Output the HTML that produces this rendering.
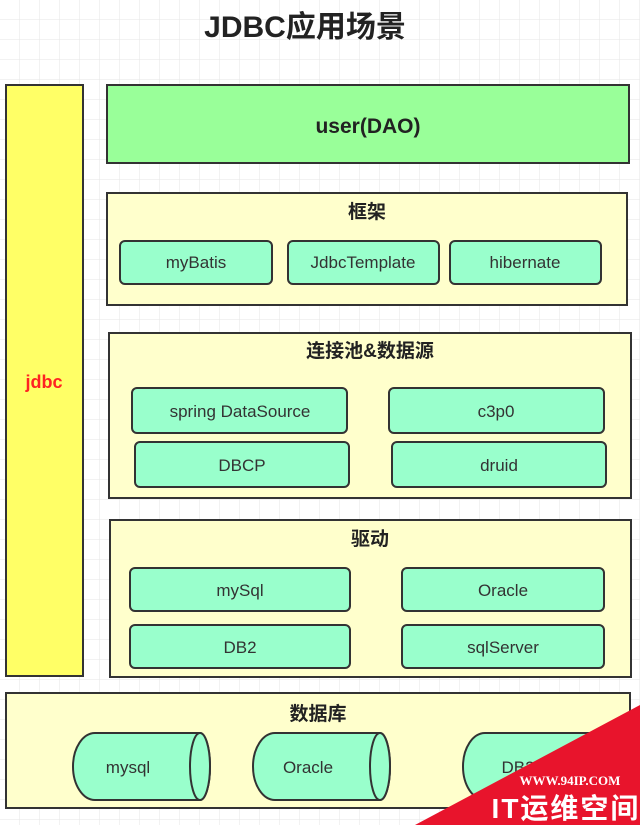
<!DOCTYPE html>
<html><head><meta charset="utf-8"><style>
html,body{margin:0;padding:0;background:#fff}
svg{display:block}
text{font-family:"Liberation Sans","Noto Sans CJK SC",sans-serif;fill:#333}
</style></head><body>
<svg width="640" height="825" viewBox="0 0 640 825" xmlns="http://www.w3.org/2000/svg">
<defs>
<pattern id="g" width="20" height="20" patternUnits="userSpaceOnUse">
<rect width="20" height="20" fill="#fff"/>
<path d="M20 0V20M0 20H20" stroke="#e6e6e6" stroke-width="1"/>
</pattern>
</defs>
<rect width="640" height="825" fill="url(#g)"/>
<text x="305" y="37" font-size="30" font-weight="bold" text-anchor="middle" style="fill:#222">JDBC应用场景</text>

<g stroke="#333" stroke-width="2">
<rect x="6" y="85" width="77" height="591" fill="#ffff66"/>
<rect x="107" y="85" width="522" height="78" fill="#99ff99"/>
<rect x="107" y="193" width="520" height="112" fill="#ffffcc"/>
<rect x="109" y="333" width="522" height="165" fill="#ffffcc"/>
<rect x="110" y="520" width="521" height="157" fill="#ffffcc"/>
<rect x="6" y="693" width="624" height="115" fill="#ffffcc"/>
</g>
<g stroke="#333" stroke-width="2" fill="#99ffcc">
<rect x="120" y="241" width="152" height="43" rx="5"/>
<rect x="288" y="241" width="151" height="43" rx="5"/>
<rect x="450" y="241" width="151" height="43" rx="5"/>
<rect x="132" y="388" width="215" height="45" rx="5"/>
<rect x="389" y="388" width="215" height="45" rx="5"/>
<rect x="135" y="442" width="214" height="45" rx="5"/>
<rect x="392" y="442" width="214" height="45" rx="5"/>
<rect x="130" y="568" width="220" height="43" rx="5"/>
<rect x="402" y="568" width="202" height="43" rx="5"/>
<rect x="130" y="625" width="220" height="43" rx="5"/>
<rect x="402" y="625" width="202" height="43" rx="5"/>
<path d="M95 733H200A10 33.5 0 0 1 200 800H95A22 33.5 0 0 1 95 733Z"/>
<ellipse cx="200" cy="766.5" rx="10" ry="33.5"/>
<path d="M275 733H380A10 33.5 0 0 1 380 800H275A22 33.5 0 0 1 275 733Z"/>
<ellipse cx="380" cy="766.5" rx="10" ry="33.5"/>
<path d="M485 733H590A10 33.5 0 0 1 590 800H485A22 33.5 0 0 1 485 733Z"/>
<ellipse cx="590" cy="766.5" rx="10" ry="33.5"/>
</g>
<text x="44" y="388" font-size="18" font-weight="bold" text-anchor="middle" style="fill:#ff2222">jdbc</text>
<text x="368" y="133" font-size="21" font-weight="bold" text-anchor="middle" style="fill:#222">user(DAO)</text>
<g font-size="19" font-weight="bold" text-anchor="middle">
<text x="367" y="218" style="fill:#222">框架</text>
<text x="370" y="357" style="fill:#222">连接池&amp;数据源</text>
<text x="370" y="545" style="fill:#222">驱动</text>
<text x="318" y="720" style="fill:#222">数据库</text>
</g>
<g font-size="17" text-anchor="middle">
<text x="196" y="268">myBatis</text>
<text x="363" y="268">JdbcTemplate</text>
<text x="525" y="268">hibernate</text>
<text x="240" y="417">spring DataSource</text>
<text x="496" y="417">c3p0</text>
<text x="242" y="471">DBCP</text>
<text x="499" y="471">druid</text>
<text x="240" y="596">mySql</text>
<text x="503" y="596">Oracle</text>
<text x="240" y="653">DB2</text>
<text x="503" y="653">sqlServer</text>
<text x="128" y="773">mysql</text>
<text x="308" y="773">Oracle</text>
<text x="518" y="773">DB2</text>
</g>
<polygon points="415,825 640,705 640,825" fill="#e8142c"/>
<text x="570" y="785" font-size="13" font-weight="bold" text-anchor="middle" style="font-family:'Liberation Serif',serif;fill:#fff">WWW.94IP.COM</text>
<text x="566" y="818" font-size="28" font-weight="bold" text-anchor="middle" letter-spacing="2" style="fill:#fff">IT运维空间</text>
</svg>
</body></html>
